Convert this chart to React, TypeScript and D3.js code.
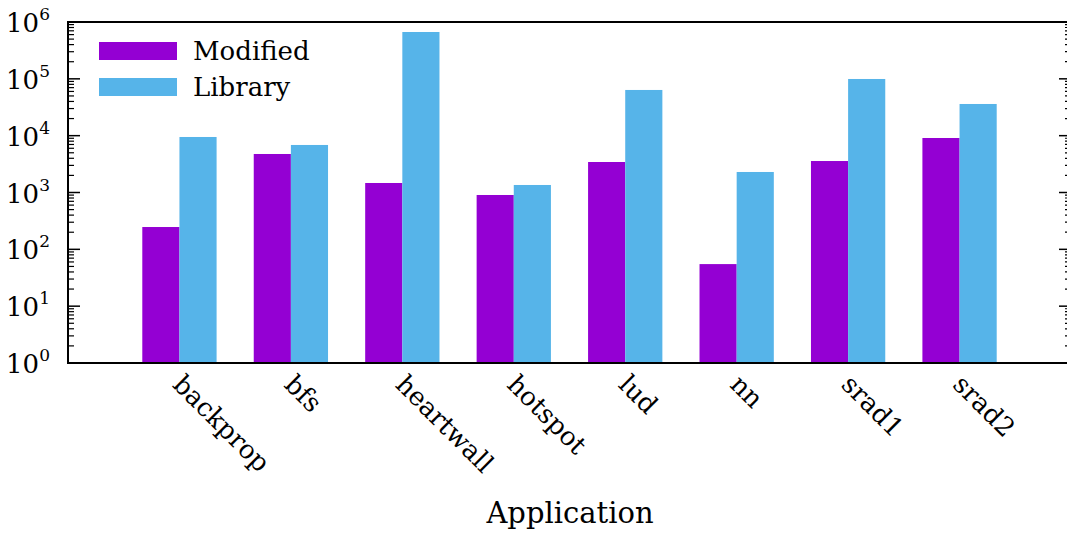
import React from "react";
import * as d3 from "d3";

// Benchmark applications on the x axis
const applications = ["backprop", "bfs", "heartwall", "hotspot", "lud", "nn", "srad1", "srad2"];
// Values per application (log scale)
const modifiedValues = [247, 4760, 1470, 904, 3440, 55, 3580, 9100];
const libraryValues = [9480, 6860, 667000, 1356, 63700, 2296, 99400, 36100];
// Series names for the legend
const seriesNames = ["Modified", "Library"];
const seriesColors = ["#9400D3", "#56B4E9"];
// Decade exponents for the y axis labels
const yExponents = [0, 1, 2, 3, 4, 5, 6];

const W = 1067;
const H = 534;
const left = 68;
const right = 1071;
const top = 22;
const bottom = 363;
const FONT = "'DejaVu Serif', serif";

export default function App() {
  const x = d3.scaleLinear().domain([-1, 8]).range([left, right]);
  const y = d3.scaleLog().domain([1, 1e6]).range([bottom, top]);
  const bw = 1 / 3;

  const minorTicks: number[] = [];
  for (let e = 0; e < 6; e++) {
    for (let m = 2; m <= 9; m++) minorTicks.push(m * Math.pow(10, e));
  }

  const series = [modifiedValues, libraryValues];

  return (
    <svg
      width={W}
      height={H}
      style={{ position: "absolute", left: 0, top: 0, background: "#fff" }}
      fontFamily={FONT}
    >
      {/* bars */}
      {applications.map((app, i) => (
        <g key={app}>
          {series.map((vals, s) => {
            const x0 = x(i - bw + s * bw);
            const x1 = x(i + s * bw);
            return (
              <rect
                key={s}
                x={x0}
                y={y(vals[i])}
                width={x1 - x0}
                height={bottom - y(vals[i])}
                fill={seriesColors[s]}
              />
            );
          })}
        </g>
      ))}

      {/* y ticks, left (inward) and right (mirrored) */}
      {yExponents.map((e) => {
        const yy = y(Math.pow(10, e));
        return (
          <g key={"maj" + e}>
            <line x1={left} x2={left + 12} y1={yy} y2={yy} stroke="#000" strokeWidth={1.5} />
            <line x1={right} x2={right - 12} y1={yy} y2={yy} stroke="#000" strokeWidth={1.5} />
          </g>
        );
      })}
      {minorTicks.map((v) => {
        const yy = y(v);
        return (
          <g key={"min" + v}>
            <line x1={left} x2={left + 6} y1={yy} y2={yy} stroke="#000" strokeWidth={1.2} />
            <line x1={right} x2={right - 6} y1={yy} y2={yy} stroke="#000" strokeWidth={1.2} />
          </g>
        );
      })}

      {/* frame */}
      <rect
        x={left}
        y={top}
        width={right - left}
        height={bottom - top}
        fill="none"
        stroke="#000"
        strokeWidth={2}
      />

      {/* y tick labels */}
      {yExponents.map((e) => (
        <text
          key={"lab" + e}
          x={50}
          y={y(Math.pow(10, e)) + 10}
          fontSize={26}
          textAnchor="end"
          fill="#000"
        >
          10
          <tspan fontSize={17} dy={-12}>
            {e}
          </tspan>
        </text>
      ))}

      {/* x tick labels */}
      {applications.map((app, i) => (
        <text
          key={"x" + app}
          transform={`translate(${x(i) - 8},386) rotate(45)`}
          fontSize={26}
          fill="#000"
        >
          {app}
        </text>
      ))}

      {/* x axis title */}
      <text x={570} y={523} fontSize={29} textAnchor="middle" fill="#000">
        Application
      </text>

      {/* legend */}
      {seriesNames.map((name, s) => (
        <g key={name}>
          <rect x={99} y={42 + s * 36} width={78} height={18} fill={seriesColors[s]} />
          <text x={193} y={60 + s * 36} fontSize={26} fill="#000">
            {name}
          </text>
        </g>
      ))}
    </svg>
  );
}
